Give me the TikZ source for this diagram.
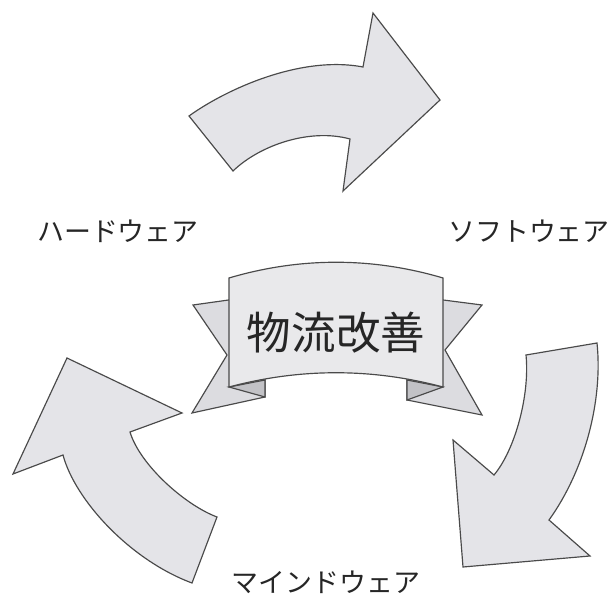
\documentclass[tikz,border=0pt]{standalone}
\usepackage{fontspec}
\newfontfamily\jpfont{Noto Sans CJK JP}
\definecolor{arrowgray}{HTML}{E4E4E8}
\definecolor{panelgray}{HTML}{E9E9EB}
\definecolor{tailgray}{HTML}{DCDCE0}
\definecolor{foldgray}{HTML}{C2C2C6}
\definecolor{edgegray}{HTML}{4A4A4A}
\begin{document}
\begin{tikzpicture}[x=0.03cm,y=-0.03cm,
  bigarrow/.style={fill=arrowgray,draw=edgegray,line width=1pt,line join=miter},
  ribbon/.style={draw=edgegray,line width=1pt,line join=miter},
  label/.style={font=\jpfont\fontsize{23pt}{23pt}\selectfont,text=black!85}]
  \useasboundingbox (0,0) rectangle (610,599);
  \draw[bigarrow] (189,116) .. controls (225,90) and (300,55) .. (363,67) -- (373,13) -- (440,100)
    -- (343,191) -- (350,139) .. controls (310,128) and (260,145) .. (233,171) -- cycle;
  \draw[bigarrow] (526,355) -- (597,343) .. controls (603,400) and (585,470) .. (549,520) -- (590,556)
    -- (463,567) -- (453,440) -- (494,475) .. controls (515,450) and (530,395) .. cycle;
  \draw[bigarrow] (217,517) .. controls (185,505) and (140,465) .. (130,432) -- (182,413) -- (67,358)
    -- (13,474) -- (63,455) .. controls (75,500) and (130,560) .. (192,583) -- cycle;
  \draw[ribbon,fill=tailgray] (250,297) -- (193,305) -- (227,355) -- (192,413) -- (265,397) -- (265,300) -- cycle;
  \draw[ribbon,fill=tailgray] (420,297) -- (482,305) -- (445,350) -- (482,415) -- (407,400) -- (407,300) -- cycle;
  \draw[ribbon,fill=foldgray] (229,387) -- (265,397) -- (265,380) -- cycle;
  \draw[ribbon,fill=foldgray] (443,387) -- (407,400) -- (407,380) -- cycle;
  \draw[ribbon,fill=panelgray] (229,278) .. controls (300,257) and (372,257) .. (443,278) -- (443,387)
    .. controls (372,368) and (300,368) .. (229,387) -- cycle;
  \node[font=\jpfont\fontsize{38pt}{38pt}\selectfont,text=black!85] (kaizen) at (336,333) {物流改善};
  \node[label] (hard) at (118,231) {ハードウェア};
  \node[label] (soft) at (529,231) {ソフトウェア};
  \node[label] (mind) at (326,582) {マインドウェア};
\end{tikzpicture}
\end{document}
